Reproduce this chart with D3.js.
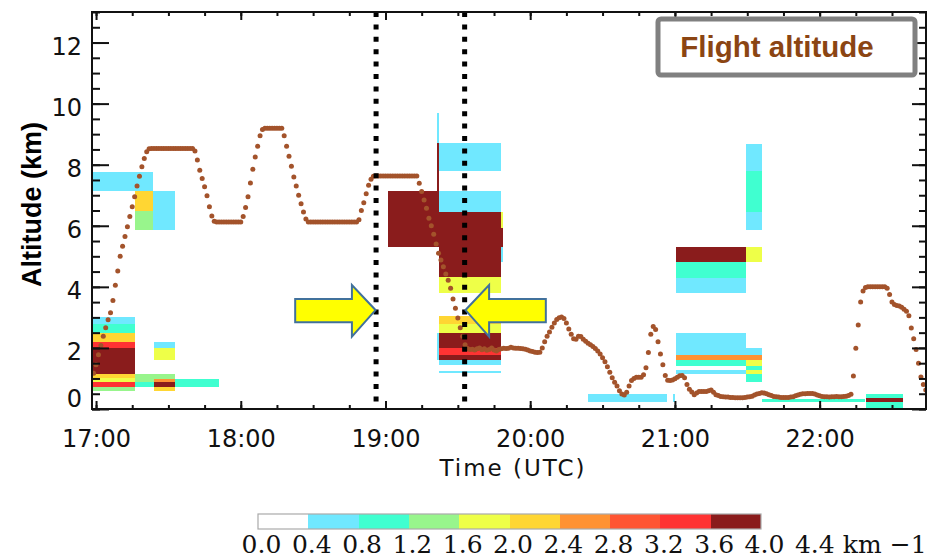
<!DOCTYPE html>
<html>
<head>
<meta charset="utf-8">
<script src="https://cdn.jsdelivr.net/npm/d3@7"></script>
<style>
  html, body { margin: 0; padding: 0; background: #fff; }
  svg { display: block; }
</style>
</head>
<body>
<svg id="chart" width="931" height="559"></svg>
<script>
// ---------------------------------------------------------------------------
// Flight altitude (km), one sample per minute starting at 16:59 UTC
const trackStartMinute = -1;
const flightAlt = [
  1.17, 1.45, 1.78, 2.08, 2.38, 2.66, 2.92, 3.15, 3.55, 4.05, 4.52,            // 16:59-17:09
  5.00, 5.33, 5.65, 5.97, 6.30, 6.62, 6.95, 7.30, 7.62, 7.93, 8.20, 8.42, 8.52, // 17:10-17:22
  8.53, 8.53, 8.53, 8.53, 8.53, 8.53, 8.53, 8.53, 8.53, 8.53, 8.53, 8.53,      // 17:23-17:34
  8.53, 8.53, 8.53, 8.53, 8.53, 8.53,                                          // 17:35-17:40
  8.45, 8.15, 7.82, 7.55, 7.28, 6.98, 6.62, 6.32, 6.15,                        // 17:41-17:49
  6.12, 6.12, 6.12, 6.12, 6.12, 6.12, 6.12, 6.12, 6.12, 6.12, 6.12,            // 17:50-18:00
  6.30, 6.60, 6.95, 7.40, 7.85, 8.25, 8.60, 8.95, 9.15,                        // 18:01-18:09
  9.19, 9.19, 9.19, 9.19, 9.19, 9.19, 9.19, 9.19,                              // 18:10-18:17
  8.95, 8.60, 8.28, 7.95, 7.60, 7.30, 7.00, 6.72, 6.45, 6.22,                  // 18:18-18:27
  6.12, 6.12, 6.12, 6.12, 6.12, 6.12, 6.12, 6.12, 6.12, 6.12, 6.12,            // 18:28-18:38
  6.12, 6.12, 6.12, 6.12, 6.12, 6.12, 6.12, 6.12, 6.12, 6.12,                  // 18:39-18:48
  6.20, 6.50, 6.75, 7.05, 7.33, 7.52, 7.62,                                    // 18:49-18:55
  7.63, 7.63, 7.63, 7.63, 7.63, 7.63, 7.63, 7.63, 7.63, 7.63, 7.63, 7.63,      // 18:56-19:07
  7.63, 7.63, 7.63, 7.63, 7.63, 7.63,                                          // 19:08-19:13
  7.39, 7.12, 6.84, 6.57, 6.25, 6.00, 5.72, 5.40, 5.10, 4.88, 4.66, 4.42,      // 19:14-19:25
  4.22, 3.95, 3.60, 3.30, 2.98, 2.66, 2.38, 2.10,                              // 19:26-19:33
  1.98, 1.95, 1.96, 1.93, 1.97, 2.00, 1.94, 1.97, 1.92, 1.95, 2.00, 1.93,      // 19:34-19:45
  1.90, 1.95, 1.97, 1.99, 1.98, 1.99, 2.02, 2.00, 1.99, 1.99, 1.98, 1.97,      // 19:46-19:57
  1.96, 1.93, 1.90, 1.88, 1.86, 1.85, 1.86,                                    // 19:58-20:04
  2.00, 2.20, 2.38, 2.52, 2.68, 2.82, 2.93, 2.99, 3.01, 2.96, 2.82, 2.62,      // 20:05-20:16
  2.45, 2.30, 2.28, 2.38, 2.37, 2.28, 2.22, 2.15, 2.10, 2.05, 1.98, 1.90,      // 20:17-20:28
  1.80, 1.68, 1.55, 1.38, 1.20, 1.02, 0.88, 0.75, 0.60, 0.49, 0.46, 0.55,      // 20:29-20:40
  0.75, 0.93, 1.00, 1.04, 1.04, 1.04, 1.12, 1.35, 1.85, 2.45, 2.70, 2.60,      // 20:41-20:52
  2.20, 1.80, 1.45, 1.10, 0.94, 0.93, 0.95, 0.99, 1.04, 1.09, 1.10, 1.02,      // 20:53-21:04
  0.80, 0.65, 0.56, 0.47, 0.52, 0.57, 0.57, 0.57, 0.57, 0.60, 0.62, 0.55,      // 21:05-21:16
  0.47, 0.44, 0.41, 0.40, 0.39, 0.39, 0.38, 0.38, 0.37, 0.37, 0.37, 0.37,      // 21:17-21:28
  0.38, 0.39, 0.40, 0.42, 0.46, 0.49, 0.51, 0.53, 0.52, 0.50, 0.47, 0.44,      // 21:29-21:40
  0.41, 0.40, 0.39, 0.38, 0.38, 0.38, 0.38, 0.39, 0.40, 0.43, 0.46, 0.48,      // 21:41-21:52
  0.50, 0.50, 0.51, 0.51, 0.51, 0.49, 0.46, 0.43, 0.41, 0.40, 0.40, 0.39,      // 21:53-22:04
  0.40, 0.40, 0.41, 0.40, 0.40, 0.41, 0.42, 0.44, 0.48,                        // 22:05-22:13
  1.08, 1.99, 2.75, 3.50, 3.86, 3.98,                                          // 22:14-22:19
  4.00, 4.00, 4.00, 4.00, 4.00, 4.00, 4.00, 4.00,                              // 22:20-22:27
  3.95, 3.75, 3.50, 3.42, 3.39, 3.37, 3.33, 3.27, 3.20, 3.05,                  // 22:28-22:37
  2.65, 2.30, 1.95, 1.50, 1.05, 0.80, 0.62                                     // 22:38-22:44
];

// Extinction layers: [start (h UTC), end (h UTC), base (km), top (km), extinction (km^-1)]
const layersEarly = [
  [16.972, 17.396, 7.14, 7.77, 0.6],
  [17.270, 17.396, 6.48, 7.14, 2.2],
  [17.270, 17.396, 5.86, 6.48, 1.4],
  [17.396, 17.548, 5.86, 7.14, 0.6],
  [16.972, 17.270, 2.78, 3.02, 0.6],
  [16.972, 17.270, 2.50, 2.78, 1.0],
  [16.972, 17.270, 2.20, 2.50, 2.2],
  [16.972, 17.270, 1.99, 2.20, 3.4],
  [16.972, 17.270, 1.14, 1.99, 3.8],
  [16.972, 17.270, 1.00, 1.14, 2.2],
  [16.972, 17.270, 0.87, 1.00, 1.8],
  [16.972, 17.270, 0.71, 0.87, 3.4],
  [16.972, 17.270, 0.60, 0.71, 1.4],
  [17.270, 17.548, 0.98, 1.14, 1.4],
  [17.270, 17.403, 0.89, 0.98, 1.4],
  [17.270, 17.403, 0.71, 0.89, 1.0],
  [17.403, 17.548, 1.99, 2.20, 0.6],
  [17.403, 17.548, 1.60, 1.99, 1.8],
  [17.403, 17.548, 0.87, 0.98, 2.6],
  [17.403, 17.548, 0.71, 0.87, 3.8],
  [17.403, 17.548, 0.60, 0.71, 2.2],
  [17.548, 17.848, 0.71, 0.98, 1.0]
];

const layersMid = [
  [19.357, 19.370, 8.70, 9.70, 0.6],
  [19.357, 19.370, 7.14, 8.70, 3.8],
  [19.020, 19.370, 5.31, 7.14, 3.8],
  [19.357, 19.370, 1.60, 2.48, 0.6],
  [19.370, 19.799, 7.80, 8.70, 0.6],
  [19.370, 19.799, 6.46, 7.14, 0.6],
  [19.370, 19.799, 4.33, 6.46, 3.8],
  [19.370, 19.799, 3.81, 4.33, 1.8],
  [19.370, 19.799, 2.78, 3.05, 2.2],
  [19.370, 19.799, 2.48, 2.78, 1.8],
  [19.370, 19.799, 1.99, 2.48, 3.8],
  [19.370, 19.799, 1.77, 1.99, 3.4],
  [19.370, 19.799, 1.60, 1.77, 3.8],
  [19.370, 19.799, 1.44, 1.60, 0.6],
  [19.370, 19.799, 1.17, 1.25, 0.6],
  [19.799, 19.813, 5.92, 6.46, 1.8],
  [19.799, 19.813, 5.31, 5.92, 3.8],
  [19.799, 19.813, 4.82, 5.31, 0.6]
];

const layersLate = [
  [20.398, 20.944, 0.24, 0.49, 0.6],
  [20.990, 21.004, 0.24, 0.49, 0.6],
  [21.008, 21.490, 4.80, 5.31, 3.8],
  [21.008, 21.490, 4.30, 4.80, 1.0],
  [21.008, 21.490, 3.81, 4.30, 0.6],
  [21.008, 21.490, 1.77, 2.48, 0.6],
  [21.008, 21.490, 1.60, 1.77, 2.6],
  [21.008, 21.490, 1.42, 1.60, 1.0],
  [21.008, 21.490, 1.15, 1.28, 0.6],
  [21.490, 21.605, 7.80, 8.68, 0.6],
  [21.490, 21.605, 6.46, 7.80, 1.0],
  [21.490, 21.605, 5.86, 6.46, 0.6],
  [21.490, 21.605, 4.80, 5.31, 1.8],
  [21.490, 21.605, 1.77, 1.99, 0.6],
  [21.490, 21.605, 1.60, 1.77, 2.6],
  [21.490, 21.605, 1.42, 1.60, 1.8],
  [21.490, 21.605, 1.28, 1.42, 1.0],
  [21.490, 21.605, 1.15, 1.28, 1.8],
  [21.490, 21.605, 0.89, 1.15, 1.0],
  [21.605, 22.315, 0.23, 0.32, 1.0],
  [22.319, 22.579, 0.35, 0.49, 1.0],
  [22.319, 22.579, 0.22, 0.35, 3.8],
  [22.319, 22.579, 0.04, 0.22, 1.0]
];

// Colour classes of the extinction scale
const extinctionBreaks = [0.4, 0.8, 1.2, 1.6, 2.0, 2.4, 2.8, 3.2, 3.6];
const extinctionColors = ["#ffffff", "#70e8ff", "#40ffd0", "#98f58c", "#eeff48",
                          "#ffd633", "#ff9233", "#ff5533", "#ff3333", "#8a1c1c"];
const colorbarLabels = ["0.0", "0.4", "0.8", "1.2", "1.6", "2.0", "2.4", "2.8",
                        "3.2", "3.6", "4.0", "4.4"];

// Axis ticks
const hourTicks = [17, 18, 19, 20, 21, 22];
const altTicks = [0, 2, 4, 6, 8, 10, 12];

// Marked times (h UTC) shown as dotted lines with arrows
const markerTimes = [18.935, 19.547];
const arrowAlt = 3.24;

// ---------------------------------------------------------------------------
const svg = d3.select("#chart");
const plot = { left: 92, right: 926, top: 12, bottom: 409 };

const x = d3.scaleLinear().domain([16.972, 22.735]).range([plot.left, plot.right]);
const y = d3.scaleLinear().domain([0, 13]).range([plot.bottom, plot.top]);
const color = d3.scaleThreshold().domain(extinctionBreaks).range(extinctionColors);

svg.append("defs").append("clipPath").attr("id", "plot-clip")
  .append("rect")
  .attr("x", plot.left).attr("y", plot.top)
  .attr("width", plot.right - plot.left).attr("height", plot.bottom - plot.top);

const inner = svg.append("g").attr("clip-path", "url(#plot-clip)");

// extinction layers
const layers = layersEarly.concat(layersMid, layersLate);
inner.append("g").selectAll("rect")
  .data(layers)
  .join("rect")
  .attr("x", d => x(d[0]))
  .attr("width", d => x(d[1]) - x(d[0]))
  .attr("y", d => y(d[3]))
  .attr("height", d => y(d[2]) - y(d[3]))
  .attr("fill", d => color(d[4]))
  .attr("shape-rendering", "crispEdges");

// flight track
const track = flightAlt.map((a, i) => ({ t: 17 + (trackStartMinute + i) / 60, a }));
inner.append("g").selectAll("circle")
  .data(track)
  .join("circle")
  .attr("cx", d => x(d.t))
  .attr("cy", d => y(d.a))
  .attr("r", 2.5)
  .attr("fill", "#a3532b");

// dotted marker lines
inner.append("g").selectAll("line")
  .data(markerTimes)
  .join("line")
  .attr("x1", d => x(d)).attr("x2", d => x(d))
  .attr("y1", y(13)).attr("y2", y(0))
  .attr("stroke", "#000")
  .attr("stroke-width", 5)
  .attr("stroke-dasharray", "5,7.4");

// block arrows pointing at the marker lines
const headLen = 0.163, arrowLen = 0.555;
const shaftTop = 3.60, shaftBottom = 2.84, headTop = 4.06, headBottom = 2.37;
function arrowPath(tip, dir) {
  // dir = +1 points right, -1 points left
  const base = tip - dir * headLen, tail = tip - dir * arrowLen;
  const pts = [
    [tip, arrowAlt], [base, headTop], [base, shaftTop], [tail, shaftTop],
    [tail, shaftBottom], [base, shaftBottom], [base, headBottom]
  ];
  return "M" + pts.map(p => x(p[0]) + "," + y(p[1])).join("L") + "Z";
}
svg.append("g").selectAll("path")
  .data([{ tip: markerTimes[0] - 0.004, dir: 1 }, { tip: markerTimes[1] + 0.006, dir: -1 }])
  .join("path")
  .attr("d", d => arrowPath(d.tip, d.dir))
  .attr("fill", "#ffff00")
  .attr("stroke", "#41719c")
  .attr("stroke-width", 2)
  .attr("stroke-linejoin", "miter");

// ---------------------------------------------------------------------------
// axes (ticks point inward on all four sides)
const tickFont = "'DejaVu Sans', sans-serif";
const minorHours = d3.range(17, 22.75, 0.25);
const minorAlts = d3.range(0, 13.01, 0.5);

function styleAxis(g) {
  g.select(".domain").remove();
  g.selectAll(".tick line").attr("stroke", "#111").attr("stroke-width", 2);
}

svg.append("g").attr("transform", `translate(0,${plot.bottom})`)
  .call(d3.axisBottom(x).tickValues(minorHours).tickSize(-4).tickFormat(""))
  .call(styleAxis);
const xAxis = svg.append("g").attr("transform", `translate(0,${plot.bottom})`)
  .call(d3.axisBottom(x).tickValues(hourTicks).tickSize(-8).tickPadding(21)
        .tickFormat(h => h + ":00"))
  .call(styleAxis);
xAxis.selectAll("text").attr("font-family", tickFont).attr("font-size", 24).attr("fill", "#111");

svg.append("g").attr("transform", `translate(0,${plot.top})`)
  .call(d3.axisTop(x).tickValues(minorHours).tickSize(-4).tickFormat(""))
  .call(styleAxis);
svg.append("g").attr("transform", `translate(0,${plot.top})`)
  .call(d3.axisTop(x).tickValues(hourTicks).tickSize(-8).tickFormat(""))
  .call(styleAxis);

svg.append("g").attr("transform", `translate(${plot.left},0)`)
  .call(d3.axisLeft(y).tickValues(minorAlts).tickSize(-8).tickFormat(""))
  .call(styleAxis);
const yAxis = svg.append("g").attr("transform", `translate(${plot.left},0)`)
  .call(d3.axisLeft(y).tickValues(altTicks).tickSize(-17).tickPadding(10))
  .call(styleAxis);
yAxis.selectAll("text")
  .attr("font-family", tickFont).attr("font-size", 24).attr("fill", "#111")
  .attr("dy", d => d === 0 ? "-3px" : "12px");

svg.append("g").attr("transform", `translate(${plot.right},0)`)
  .call(d3.axisRight(y).tickValues(minorAlts).tickSize(-7).tickFormat(""))
  .call(styleAxis);
svg.append("g").attr("transform", `translate(${plot.right},0)`)
  .call(d3.axisRight(y).tickValues(altTicks).tickSize(-14).tickFormat(""))
  .call(styleAxis);

// plot frame
svg.append("rect")
  .attr("x", plot.left).attr("y", plot.top)
  .attr("width", plot.right - plot.left).attr("height", plot.bottom - plot.top)
  .attr("fill", "none").attr("stroke", "#111").attr("stroke-width", 2);

// axis titles
svg.append("text")
  .attr("transform", `translate(41,${(plot.top + plot.bottom) / 2 - 6}) rotate(-90)`)
  .attr("text-anchor", "middle")
  .attr("font-family", "'Liberation Sans', Arial, sans-serif")
  .attr("font-weight", "bold").attr("font-size", 27).attr("fill", "#000")
  .text("Altitude (km)");

svg.append("text")
  .attr("x", 513).attr("y", 476)
  .attr("text-anchor", "middle")
  .attr("font-family", tickFont).attr("font-size", 23)
  .attr("letter-spacing", 2).attr("fill", "#111")
  .text("Time (UTC)");

// legend box
const legend = svg.append("g");
legend.append("rect")
  .attr("x", 658).attr("y", 19).attr("width", 257).attr("height", 56).attr("rx", 3)
  .attr("fill", "#fff").attr("stroke", "#808080").attr("stroke-width", 5);
legend.append("text")
  .attr("x", 777).attr("y", 57)
  .attr("text-anchor", "middle")
  .attr("font-family", "'Liberation Sans', Arial, sans-serif")
  .attr("font-weight", "bold").attr("font-size", 29.5).attr("fill", "#8b4513")
  .text("Flight altitude");

// colour bar
const cb = d3.scaleLinear().domain([0, 4.0]).range([258, 761]);
const cbTop = 514, cbHeight = 15;
const cbBins = extinctionColors.map((c, i) => ({ lo: i * 0.4, hi: (i + 1) * 0.4, c }));
svg.append("g").selectAll("rect")
  .data(cbBins)
  .join("rect")
  .attr("x", d => cb(d.lo)).attr("width", d => cb(d.hi) - cb(d.lo))
  .attr("y", cbTop).attr("height", cbHeight)
  .attr("fill", d => d.c)
  .attr("shape-rendering", "crispEdges");
svg.append("rect")
  .attr("x", cb(0)).attr("y", cbTop).attr("width", cb(4.0) - cb(0)).attr("height", cbHeight)
  .attr("fill", "none").attr("stroke", "#aaa").attr("stroke-width", 1.2);

const cbFont = "'DejaVu Serif', serif";
const cbLabelY = 553;
svg.append("g").selectAll("text")
  .data(colorbarLabels)
  .join("text")
  .attr("x", d => cb(+d) + 3.5)
  .attr("y", cbLabelY)
  .attr("text-anchor", "middle")
  .attr("font-family", cbFont).attr("font-size", 25).attr("fill", "#111")
  .text(d => d);
svg.append("text")
  .attr("x", cb(4.4) + 51).attr("y", cbLabelY).attr("text-anchor", "middle")
  .attr("font-family", cbFont).attr("font-size", 25).attr("fill", "#111")
  .text("km");
svg.append("text")
  .attr("x", cb(4.4) + 97).attr("y", cbLabelY).attr("text-anchor", "middle")
  .attr("font-family", cbFont).attr("font-size", 25).attr("fill", "#111")
  .text("\u22121");
</script>
</body>
</html>
